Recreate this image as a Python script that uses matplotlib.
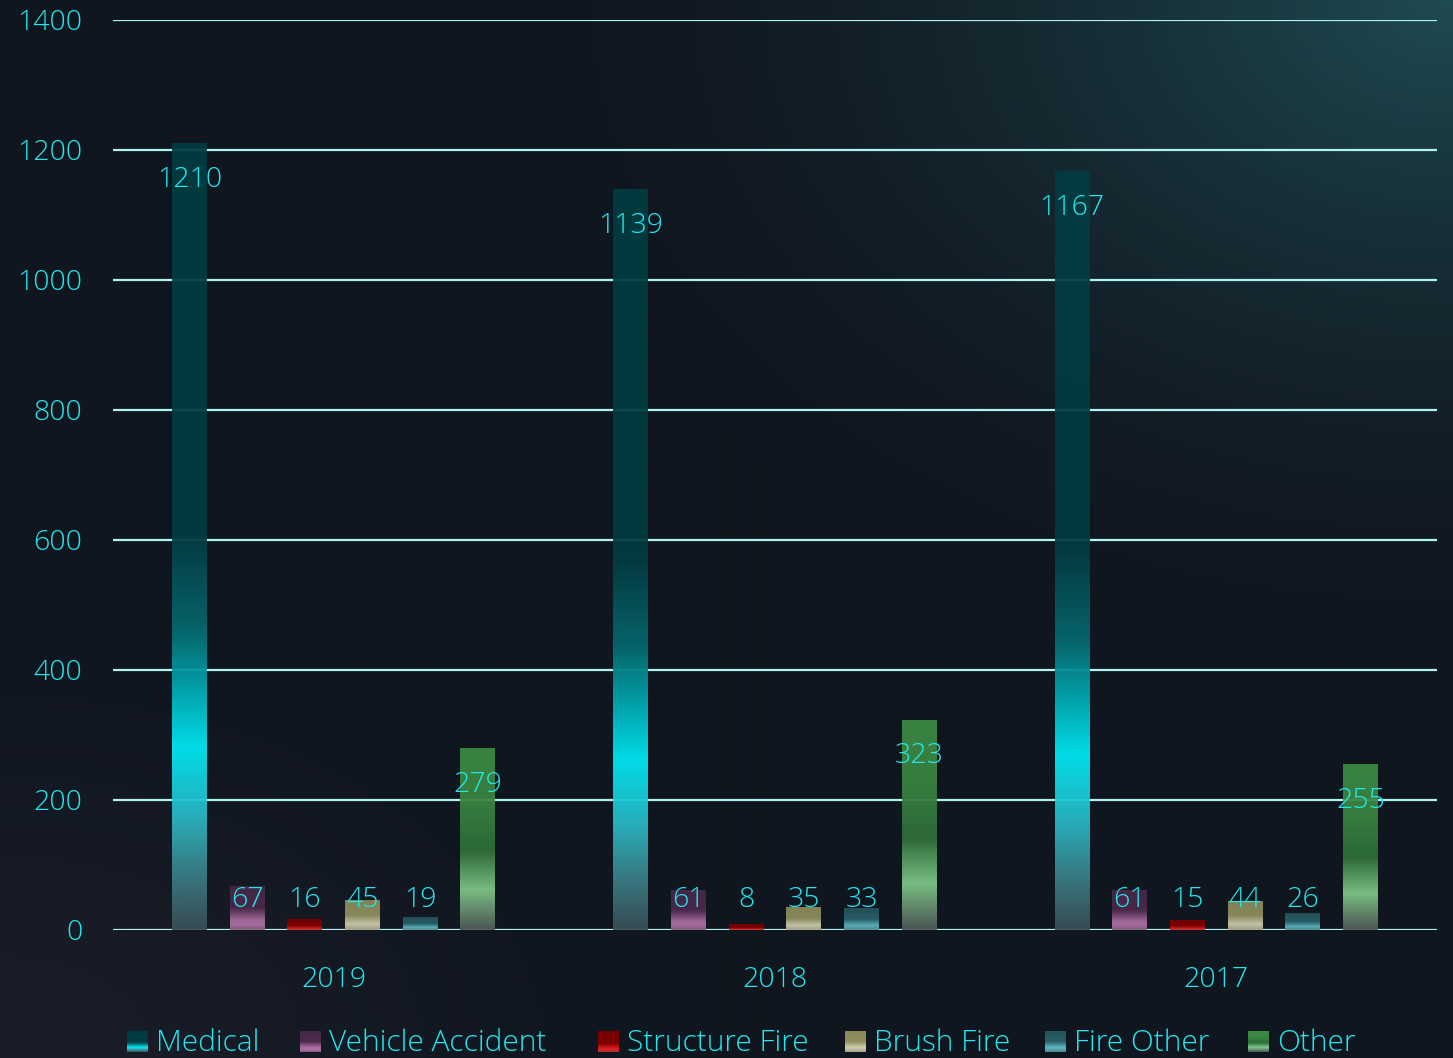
import numpy as np
import matplotlib
matplotlib.use("Agg")
import matplotlib.pyplot as plt
from matplotlib.colors import LinearSegmentedColormap, to_rgb

# data
years = ["2019", "2018", "2017"]
series = ["Medical", "Vehicle Accident", "Structure Fire", "Brush Fire", "Fire Other", "Other"]
medical = [1210, 1139, 1167]
vehicle_accident = [67, 61, 61]
structure_fire = [16, 8, 15]
brush_fire = [45, 35, 44]
fire_other = [19, 33, 26]
other = [279, 323, 255]
values = [medical, vehicle_accident, structure_fire, brush_fire, fire_other, other]

# vertical gradients, position measured from bar top (0) to bar bottom (1)
gradients = [
    [(0, "#023c41"), (0.5, "#033c42"), (0.62, "#066a70"), (0.77, "#00eaf6"),
     (0.86, "#2ab8c4"), (0.93, "#3a8088"), (1.0, "#3a5058")],
    [(0, "#482848"), (0.5, "#4c2a4c"), (0.78, "#a86ca0"), (0.88, "#b070a8"), (1.0, "#806078")],
    [(0, "#780000"), (0.6, "#820000"), (0.85, "#e02020"), (1.0, "#b03030")],
    [(0, "#8a8a58"), (0.5, "#909060"), (0.8, "#d0d0b0"), (1.0, "#a8a088")],
    [(0, "#24545c"), (0.5, "#286068"), (0.8, "#60b8c4"), (1.0, "#508890")],
    [(0, "#3c8c44"), (0.3, "#3a8442"), (0.56, "#2f6e3a"), (0.78, "#80c888"), (1.0, "#505a58")],
]
cmaps = [LinearSegmentedColormap.from_list("g%d" % i, g) for i, g in enumerate(gradients)]

text_color = "#22e8ee"
grid_color = "#b0f2f2"
font = ["Open Sans", "DejaVu Sans"]
plt.rcParams["font.family"] = font

W, H = 1453, 1058
fig = plt.figure(figsize=(W / 100, H / 100), dpi=100)

# background + legend layer in pixel coordinates
bg = fig.add_axes([0, 0, 1, 1], zorder=0)
bg.set_xlim(0, W)
bg.set_ylim(H, 0)
bg.axis("off")
yy, xx = np.mgrid[0:H:2, 0:W:2]
base = np.array(to_rgb("#10161f"))
glow = np.array(to_rgb("#1f4b52"))
glow2 = np.array(to_rgb("#1a1e29"))
r1 = np.sqrt(((W - xx) / 950.0) ** 2 + (yy / 660.0) ** 2)
w1 = np.clip(1 - r1, 0, 1) ** 1.7
r2 = np.sqrt((xx / 600.0) ** 2 + ((H - yy) / 400.0) ** 2)
w2 = np.clip(1 - r2, 0, 1)
img = base + w2[..., None] * (glow2 - base)
img = img + w1[..., None] * (glow - img)
bg.imshow(img, extent=(0, W, H, 0), aspect="auto", zorder=0)

ax = fig.add_axes([113 / W, 1 - 930 / H, (1437 - 113) / W, (930 - 20) / H], zorder=1)
ax.patch.set_alpha(0)
ax.set_xlim(-0.5, 2.5)
ax.set_ylim(0, 1400)
for s in ax.spines.values():
    s.set_visible(False)
ax.set_yticks(range(0, 1401, 200))
ax.set_xticks(range(len(years)))
ax.set_xticklabels(years)
ax.tick_params(length=0, labelsize=20.5, labelcolor=text_color)
ax.tick_params(axis="y", pad=22)
ax.tick_params(axis="x", pad=26)
for lab in ax.get_xticklabels() + ax.get_yticklabels():
    lab.set_fontweight("light")
for t in range(0, 1401, 200):
    ax.axhline(t, color=grid_color, lw=1.6, zorder=1)

grad = np.linspace(0, 1, 256).reshape(-1, 1)
bw = 0.079
step = 0.1306
for si, (vals, cm) in enumerate(zip(values, cmaps)):
    off = (si - 2.5) * step
    for gi, v in enumerate(vals):
        x0 = gi + off - bw / 2
        ax.imshow(grad, cmap=cm, extent=(x0, x0 + bw, 0, v), aspect="auto",
                  zorder=2, alpha=0.94, interpolation="bilinear")
        ly = max(v - 56, 46)
        ax.text(gi + off, ly, str(v), ha="center", va="center", color=text_color,
                fontsize=20.5, fontweight="light", zorder=3)
ax.set_xlim(-0.5, 2.5)
ax.set_ylim(0, 1400)

# legend
leg_x = [127, 300, 598, 845, 1045, 1248]
sq = np.linspace(0, 1, 64).reshape(-1, 1)
for name, cm, lx in zip(series, cmaps, leg_x):
    bg.imshow(sq, cmap=cm, extent=(lx, lx + 21, 1052, 1031), aspect="auto", zorder=2)
    bg.text(lx + 29, 1043, name, ha="left", va="center", color=text_color,
            fontsize=21.5, fontweight="light", zorder=3)
bg.set_xlim(0, W)
bg.set_ylim(H, 0)

fig.savefig("out.png", dpi=100, facecolor="#10161f")
